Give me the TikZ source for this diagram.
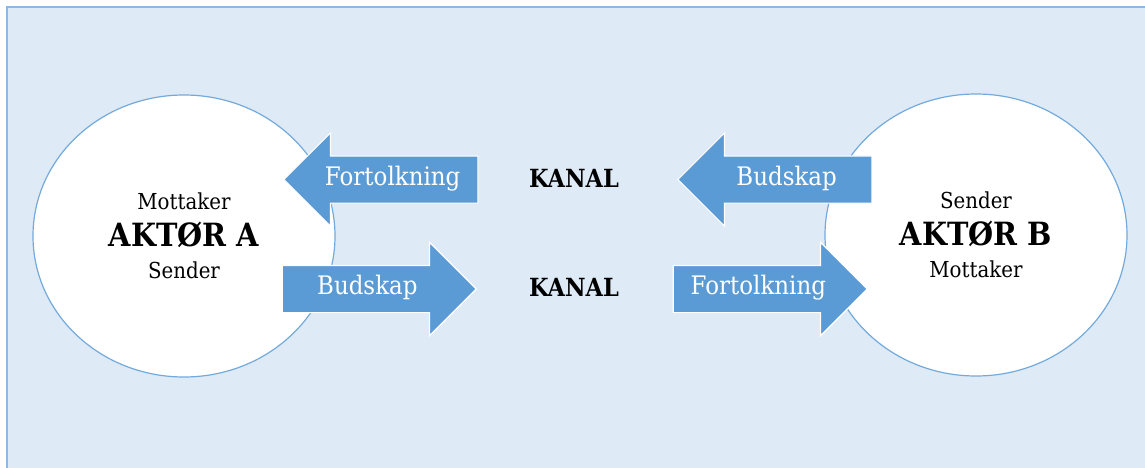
\documentclass[tikz,border=0pt]{standalone}
\usepackage{fontspec}
\setmainfont{DejaVu Serif}[FakeStretch=0.9]
\usetikzlibrary{shapes.geometric,shapes.arrows}
\definecolor{bgblue}{HTML}{DEEAF6}
\definecolor{lineblue}{HTML}{5B9BD5}
\definecolor{rimblue}{HTML}{8DB8E2}

\begin{document}
\begin{tikzpicture}[x=1pt,y=-1pt,
  actor/.style={ellipse,draw=lineblue!85,line width=1.2pt,fill=white,inner sep=0pt,
    minimum width=302pt,minimum height=282pt,align=center,
    font=\fontsize{22}{32}\selectfont},
  blockarrow/.style={single arrow,fill=lineblue,draw=white,line width=1.2pt,
    text=white,font=\fontsize{25.5}{28}\selectfont,minimum height=194pt,
    single arrow head extend=23pt,single arrow tip angle=90,
    inner xsep=4pt,inner ysep=12.5pt,text height=16pt,text depth=5pt},
  kanal/.style={font=\fontsize{25}{28}\selectfont\bfseries}]
\clip (0,0) rectangle (1145,468);
\draw[rimblue,line width=2pt,fill=bgblue] (7,7) rectangle (1160,480);
\node[actor] (A) at (184,236) {Mottaker\\[5pt]{\fontsize{32}{32}\selectfont\bfseries AKTØR A}\\Sender};
\node[actor] (B) at (976,235) {Sender\\[5pt]{\fontsize{32}{32}\selectfont\bfseries AKTØR B}\\Mottaker};
\node[blockarrow,shape border rotate=180,anchor=tip] (FA) at (283,179.5) {Fortolkning};
\node[blockarrow,anchor=tip] (BA) at (477,289) {Budskap};
\node[blockarrow,shape border rotate=180,anchor=tip] (BB) at (677,179.5) {Budskap};
\node[blockarrow,anchor=tip] (FB) at (868,289) {Fortolkning};
\node[kanal] (K1) at (574,178) {KANAL};
\node[kanal] (K2) at (574,287) {KANAL};
\end{tikzpicture}
\end{document}
